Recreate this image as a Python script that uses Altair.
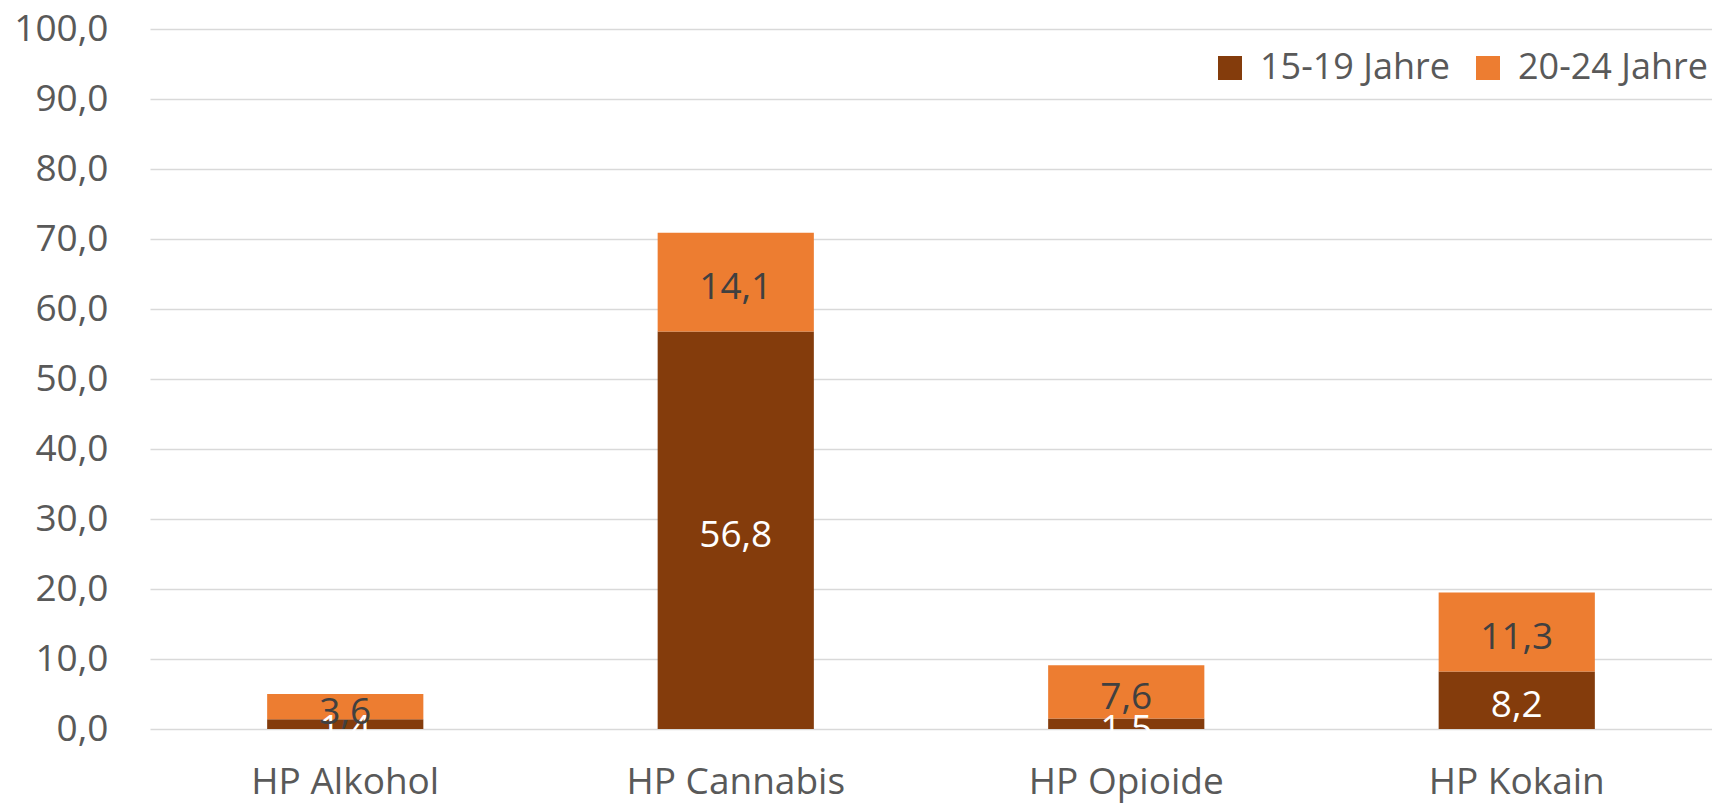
import altair as alt
import pandas as pd

# Stacked bars: share per age group for each main problem substance (HP)
categories = ["HP Alkohol", "HP Cannabis", "HP Opioide", "HP Kokain"]
groups = ["15-19 Jahre", "20-24 Jahre"]
values_15_19 = [1.4, 56.8, 1.5, 8.2]
values_20_24 = [3.6, 14.1, 7.6, 11.3]

colors = ["#843C0C", "#ED7D31"]
font = "Open Sans"
text_grey = "#595959"

rows = []
for i, cat in enumerate(categories):
    rows.append({"cat": cat, "group": groups[0], "value": values_15_19[i], "rank": 0})
    rows.append({"cat": cat, "group": groups[1], "value": values_20_24[i], "rank": 1})
df = pd.DataFrame(rows)

base = alt.Chart(df).transform_stack(
    stack="value",
    groupby=["cat"],
    as_=["y0", "y1"],
    sort=[alt.SortField("rank", order="ascending")],
).transform_calculate(
    mid="(datum.y0 + datum.y1) / 2",
    label="replace(format(datum.value, '.1f'), '.', ',')",
)

x_axis = alt.Axis(
    labelAngle=0,
    labelFont=font,
    labelFontSize=37,
    labelColor=text_grey,
    labelPadding=35,
    labelLimit=0,
    domain=False,
    ticks=False,
    grid=False,
)

y_axis = alt.Axis(
    values=list(range(0, 101, 10)),
    labelExpr="replace(format(datum.value, '.1f'), '.', ',')",
    labelFont=font,
    labelFontSize=37,
    labelColor=text_grey,
    labelPadding=42,
    labelLimit=0,
    domain=False,
    ticks=False,
    gridColor="#D9D9D9",
    gridWidth=1.5,
)

x_scale = alt.Scale(paddingInner=0.6, paddingOuter=0.3)
y_scale = alt.Scale(domain=[0, 100])

bars = base.mark_bar().encode(
    x=alt.X("cat:N", sort=categories, title=None, scale=x_scale, axis=x_axis),
    y=alt.Y("y0:Q", title=None, scale=y_scale, axis=y_axis),
    y2="y1:Q",
    color=alt.Color(
        "group:N",
        scale=alt.Scale(domain=groups, range=colors),
        legend=alt.Legend(
            title=None,
            orient="none",
            direction="horizontal",
            legendX=1062,
            legendY=21,
            symbolType="square",
            symbolSize=576,
            symbolStrokeWidth=0,
            labelFont=font,
            labelFontSize=36,
            labelColor=text_grey,
            labelLimit=0,
            labelOffset=12,
            columnPadding=20,
            padding=0,
        ),
    ),
)

labels = base.mark_text(font=font, fontSize=37, baseline="middle", dy=6).encode(
    x=alt.X("cat:N", sort=categories, title=None, scale=x_scale, axis=x_axis),
    y=alt.Y("mid:Q", title=None, scale=y_scale, axis=y_axis),
    text="label:N",
    color=alt.condition(
        alt.datum.group == groups[0], alt.value("white"), alt.value("#404040")
    ),
)

chart = (
    alt.layer(bars, labels)
    .properties(
        width=1562,
        height=700,
        background="white",
        autosize=alt.AutoSizeParams(type="none"),
        padding={"left": 150, "top": 29, "right": 0, "bottom": 74},
    )
    .configure_view(strokeWidth=0, strokeOpacity=0)
)

chart.save("out.html", embed_options={"renderer": "svg", "actions": False})
